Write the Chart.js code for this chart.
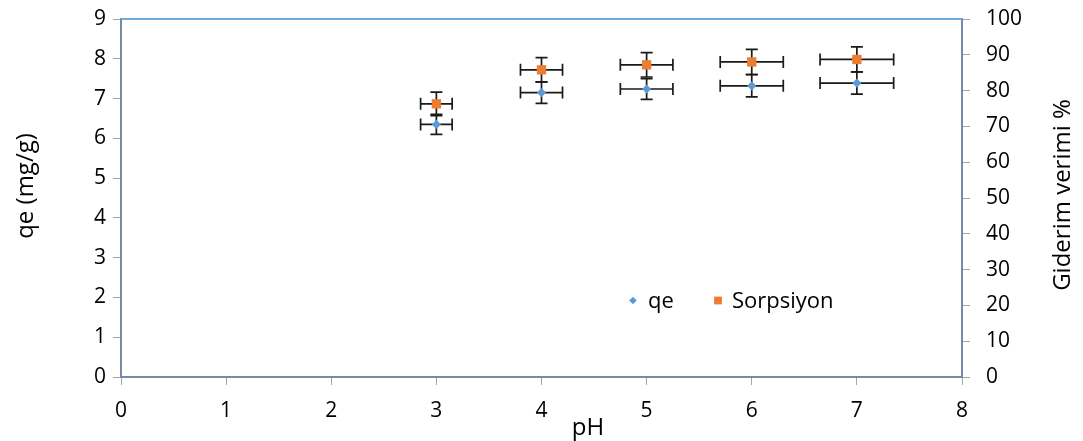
<!DOCTYPE html>
<html>
<head>
<meta charset="utf-8">
<script src="https://cdn.jsdelivr.net/npm/chart.js@4.4.1/dist/chart.umd.min.js"></script>
<style>
  html, body { margin: 0; padding: 0; background: #fff; }
  canvas { display: block; }
</style>
</head>
<body>
<canvas id="chart" width="1083" height="441"></canvas>
<script>
// values
const phValues   = [3, 4, 5, 6, 7];
const phErr      = [0.15, 0.2, 0.25, 0.3, 0.35];
const qeValues   = [6.35, 7.15, 7.24, 7.32, 7.39];
const qeErr      = [0.25, 0.27, 0.26, 0.28, 0.28];
const sorpValues = [76.3, 85.8, 87.2, 88.0, 88.7];
const sorpErr    = [3.3, 3.4, 3.4, 3.5, 3.5];

const seriesNames = ["qe", "Sorpsiyon"];
const xRange  = [0, 8, 1];     // min, max, step
const yRange  = [0, 9, 1];
const y2Range = [0, 100, 10];

const xTitle  = "pH";
const yTitle  = "qe (mg/g)";
const y2Title = "Giderim verimi %";

const FONT = "'Open Sans', sans-serif";
const AXIS = "#7589A8";
const TICK = "#A6A6A6";
const CAP = 6;

const toPoints = (ys) => phValues.map((x, i) => ({ x, y: ys[i] }));

// fixed box sizes so the plot area lands where the original one is
const fixWidth = (w) => (s) => { s.width = w; s.paddingTop = 0; s.paddingBottom = 0; };
const fixHeight = (h) => (s) => { s.height = h; s.paddingLeft = 0; s.paddingRight = 0; };

const errorBars = {
  id: "errorBars",
  beforeDatasetsDraw(chart) {
    const ctx = chart.ctx;
    const xs = chart.scales.x;
    ctx.save();
    ctx.strokeStyle = "#1a1a1a";
    ctx.lineWidth = 1.7;
    chart.data.datasets.forEach((ds) => {
      const ys = chart.scales[ds.yAxisID];
      ds.data.forEach((pt, i) => {
        const x = xs.getPixelForValue(pt.x);
        const y = ys.getPixelForValue(pt.y);
        const xa = xs.getPixelForValue(pt.x - ds.xErr[i]);
        const xb = xs.getPixelForValue(pt.x + ds.xErr[i]);
        const ya = ys.getPixelForValue(pt.y - ds.yErr[i]);
        const yb = ys.getPixelForValue(pt.y + ds.yErr[i]);
        ctx.beginPath();
        ctx.moveTo(xa, y); ctx.lineTo(xb, y);
        ctx.moveTo(xa, y - CAP); ctx.lineTo(xa, y + CAP);
        ctx.moveTo(xb, y - CAP); ctx.lineTo(xb, y + CAP);
        ctx.moveTo(x, ya); ctx.lineTo(x, yb);
        ctx.moveTo(x - CAP, ya); ctx.lineTo(x + CAP, ya);
        ctx.moveTo(x - CAP, yb); ctx.lineTo(x + CAP, yb);
        ctx.stroke();
      });
    });
    ctx.restore();
  }
};

const decorations = {
  id: "decorations",
  afterDraw(chart) {
    const ctx = chart.ctx;
    const a = chart.chartArea;
    ctx.save();
    // top frame line
    ctx.strokeStyle = "#6FA8DC";
    ctx.lineWidth = 2;
    ctx.beginPath();
    ctx.moveTo(a.left, a.top);
    ctx.lineTo(a.right, a.top);
    ctx.stroke();

    // axis titles
    ctx.fillStyle = "#000";
    ctx.font = "24px " + FONT;
    ctx.textAlign = "center";
    ctx.textBaseline = "alphabetic";
    ctx.fillText(xTitle, 588, 435);
    ctx.textBaseline = "middle";
    ctx.save();
    ctx.translate(26, 186);
    ctx.rotate(-Math.PI / 2);
    ctx.fillText(yTitle, 0, 0);
    ctx.restore();
    ctx.save();
    ctx.translate(1063, 195);
    ctx.rotate(-Math.PI / 2);
    ctx.fillText(y2Title, 0, 0);
    ctx.restore();

    // legend inside the plot
    const items = [
      { x: 633, text: 648 },
      { x: 718, text: 732 }
    ];
    ctx.font = "22px " + FONT;
    ctx.textAlign = "left";
    ctx.textBaseline = "alphabetic";
    chart.data.datasets.forEach((ds, i) => {
      ctx.fillStyle = ds.backgroundColor;
      ctx.strokeStyle = ds.borderColor;
      Chart.helpers.drawPoint(ctx, {
        pointStyle: ds.pointStyle,
        radius: ds.pointStyle === "rect" ? 5.5 : 3.8,
        borderWidth: 0,
        rotation: 0
      }, items[i].x, 300.5);
      ctx.fillStyle = "#000";
      ctx.fillText(ds.label, items[i].text, 307.5);
    });
    ctx.restore();
  }
};

new Chart(document.getElementById("chart").getContext("2d"), {
  type: "scatter",
  data: {
    datasets: [
      {
        label: seriesNames[0],
        data: toPoints(qeValues),
        xErr: phErr,
        yErr: qeErr,
        yAxisID: "y",
        pointStyle: "rectRot",
        pointRadius: 4.6,
        borderWidth: 0,
        backgroundColor: "#5B9BD5",
        borderColor: "#5B9BD5"
      },
      {
        label: seriesNames[1],
        data: toPoints(sorpValues),
        xErr: phErr,
        yErr: sorpErr,
        yAxisID: "y2",
        pointStyle: "rect",
        pointRadius: 6.6,
        borderWidth: 0,
        backgroundColor: "#ED7D31",
        borderColor: "#ED7D31"
      }
    ]
  },
  options: {
    responsive: false,
    animation: false,
    layout: { padding: { top: 19, left: 0, right: 0, bottom: 0 } },
    plugins: { legend: { display: false }, tooltip: { enabled: false } },
    scales: {
      x: {
        type: "linear",
        min: xRange[0], max: xRange[1],
        afterFit: fixHeight(64),
        ticks: { stepSize: xRange[2], padding: 13, color: "#000", font: { family: FONT, size: 21 } },
        grid: { drawOnChartArea: false, color: TICK, tickLength: 8 },
        border: { color: AXIS, width: 2 }
      },
      y: {
        position: "left",
        min: yRange[0], max: yRange[1],
        afterFit: fixWidth(121),
        ticks: { stepSize: yRange[2], padding: 7, color: "#000", font: { family: FONT, size: 21 } },
        grid: { drawOnChartArea: false, color: TICK, tickLength: 8 },
        border: { color: AXIS, width: 2 }
      },
      y2: {
        position: "right",
        min: y2Range[0], max: y2Range[1],
        afterFit: fixWidth(121),
        ticks: { stepSize: y2Range[2], padding: 16, color: "#000", font: { family: FONT, size: 21 } },
        grid: { drawOnChartArea: false, color: TICK, tickLength: 8 },
        border: { color: AXIS, width: 2 }
      }
    }
  },
  plugins: [errorBars, decorations]
});
</script>
</body>
</html>
